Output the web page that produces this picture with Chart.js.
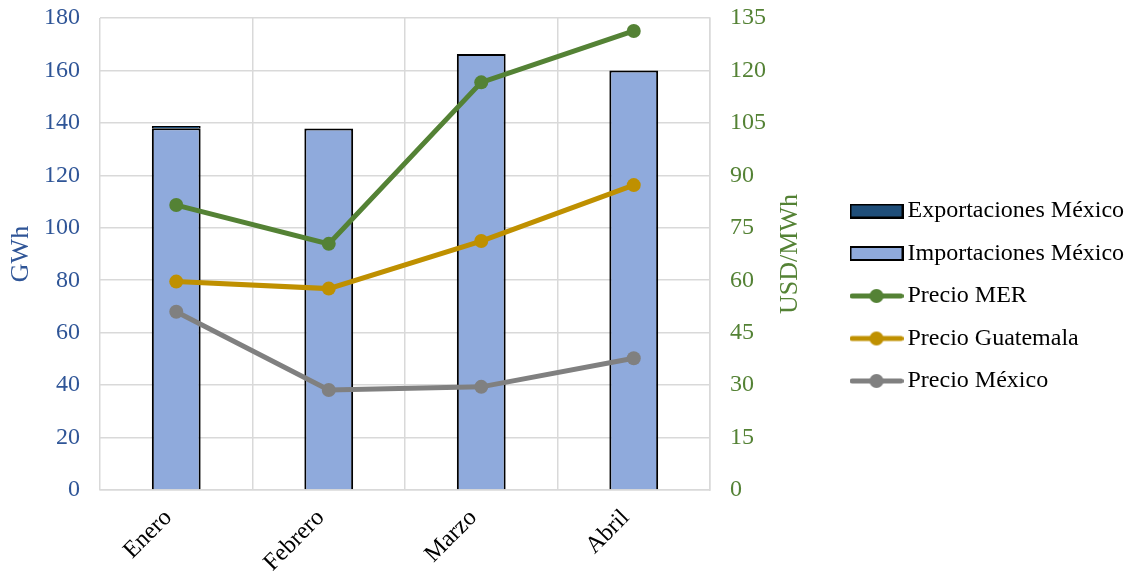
<!DOCTYPE html>
<html><head><meta charset="utf-8">
<script src="https://cdn.jsdelivr.net/npm/chart.js@4"></script>
<style>html,body{margin:0;padding:0;background:#fff}#wrap{width:1127px;height:574px;position:relative}</style>
</head><body><div id="wrap"><canvas id="c"></canvas></div>
<script>
const categories = ['Enero', 'Febrero', 'Marzo', 'Abril'];
const exportacionesMexico = [0.8, 0, 0, 0];
const importacionesMexico = [138.0, 137.9, 166.3, 160.0];
const precioMER = [81.5, 70.4, 116.6, 131.3];
const precioGuatemala = [59.6, 57.6, 71.2, 87.2];
const precioMexico = [51.0, 28.6, 29.5, 37.7];
const gwhRange = [0, 180];
const usdRange = [0, 135];

const FONT = "'Liberation Serif', 'Times New Roman', serif";
Chart.defaults.font.family = FONT;
Chart.defaults.font.size = 24;
Chart.defaults.color = '#000';

function rectIcon(fill) {
  const c = document.createElement('canvas'); c.width = 54; c.height = 15;
  const g = c.getContext('2d');
  g.fillStyle = fill; g.fillRect(1, 1, 52, 13);
  g.strokeStyle = '#000'; g.lineWidth = 2; g.strokeRect(1, 1, 52, 13);
  return c;
}
function lineIcon(color) {
  const c = document.createElement('canvas'); c.width = 54; c.height = 16;
  const g = c.getContext('2d');
  g.strokeStyle = color; g.lineWidth = 5; g.lineCap = 'round';
  g.beginPath(); g.moveTo(2.5, 8); g.lineTo(51.5, 8); g.stroke();
  g.fillStyle = color; g.beginPath(); g.arc(27, 8, 7, 0, Math.PI * 2); g.fill();
  return c;
}

const C_IMP = '#8faadc', C_EXP = '#1f4e79', C_MER = '#548235', C_GUA = '#bf9000', C_MEX = '#808080';
const C_LEFT = '#2f5597', C_RIGHT = '#548235';

const datasets = [
  { type: 'bar', label: 'Importaciones México', data: importacionesMexico, backgroundColor: C_IMP, borderColor: '#000', borderWidth: 2, yAxisID: 'y', stack: 's', order: 2, barPercentage: 0.32, categoryPercentage: 1, icon: rectIcon(C_IMP) },
  { type: 'bar', label: 'Exportaciones México', data: exportacionesMexico, backgroundColor: C_EXP, borderColor: '#000', borderWidth: 2, yAxisID: 'y', stack: 's', order: 2, barPercentage: 0.32, categoryPercentage: 1, icon: rectIcon(C_EXP) },
  { type: 'line', label: 'Precio MER', data: precioMER, borderColor: C_MER, backgroundColor: C_MER, borderWidth: 5, pointRadius: 7, pointHoverRadius: 7, pointBorderWidth: 0, yAxisID: 'y1', order: 1, icon: lineIcon(C_MER) },
  { type: 'line', label: 'Precio Guatemala', data: precioGuatemala, borderColor: C_GUA, backgroundColor: C_GUA, borderWidth: 5, pointRadius: 7, pointHoverRadius: 7, pointBorderWidth: 0, yAxisID: 'y1', order: 1, icon: lineIcon(C_GUA) },
  { type: 'line', label: 'Precio México', data: precioMexico, borderColor: C_MEX, backgroundColor: C_MEX, borderWidth: 5, pointRadius: 7, pointHoverRadius: 7, pointBorderWidth: 0, yAxisID: 'y1', order: 1, icon: lineIcon(C_MEX) }
];
const legendOrder = [1, 0, 2, 3, 4];

const rightTitle = {
  id: 'rightTitle',
  afterDraw(chart) {
    const g = chart.ctx, s = chart.scales.y1;
    g.save();
    g.translate(790, (s.top + s.bottom) / 2);
    g.rotate(-Math.PI / 2);
    g.font = "26px " + FONT;
    g.fillStyle = C_RIGHT; g.textAlign = 'center'; g.textBaseline = 'middle';
    g.fillText('USD/MWh', 0, 0);
    g.restore();
  }
};

new Chart(document.getElementById('c'), {
  data: { labels: categories, datasets },
  plugins: [rightTitle],
  options: {
    responsive: true, maintainAspectRatio: false, animation: false,
    layout: { padding: { top: 18, right: 0, bottom: 0, left: 0 } },
    plugins: {
      tooltip: { enabled: false },
      legend: {
        position: 'right', maxWidth: 288,
        labels: {
          usePointStyle: true, pointStyleWidth: 38, boxHeight: 15, padding: 18.5,
          font: { size: 24, family: FONT }, color: '#000',
          generateLabels(chart) {
            return legendOrder.map(i => ({
              text: chart.data.datasets[i].label, datasetIndex: i,
              pointStyle: chart.data.datasets[i].icon,
              fillStyle: 'transparent', strokeStyle: 'transparent', lineWidth: 0,
              hidden: false, fontColor: '#000'
            }));
          }
        }
      }
    },
    scales: {
      x: {
        grid: { color: '#d9d9d9', lineWidth: 1.5, drawTicks: false, offset: true },
        border: { color: '#d9d9d9', width: 1.5 },
        ticks: { maxRotation: 45, minRotation: 45, padding: 14, labelOffset: -8, color: '#000', font: { size: 24 } },
        afterFit(s) { s.height = 84; }
      },
      y: {
        position: 'left', min: gwhRange[0], max: gwhRange[1], stacked: true,
        grid: { drawTicks: false, lineWidth: 1.5, color: ctx => (ctx.tick && ctx.tick.value % 20 === 0) ? '#d9d9d9' : '#f2f2f2' },
        border: { display: false },
        ticks: { stepSize: 10, padding: 20, color: C_LEFT, font: { size: 24 }, callback: v => (v % 20 === 0 ? String(v) : '') },
        title: { display: true, text: 'GWh', color: C_LEFT, font: { size: 26 }, padding: { top: 6, bottom: 0 } },
        afterFit(s) { s.width = 100; s.paddingTop = 0; s.paddingBottom = 0; }
      },
      y1: {
        position: 'right', min: usdRange[0], max: usdRange[1],
        grid: { display: false, drawTicks: false },
        border: { color: '#d9d9d9', width: 1.5 },
        ticks: { stepSize: 15, padding: 20, color: C_RIGHT, font: { size: 24 } },
        afterFit(s) { s.width = 129; s.paddingTop = 0; s.paddingBottom = 0; }
      }
    }
  }
});
</script></body></html>
